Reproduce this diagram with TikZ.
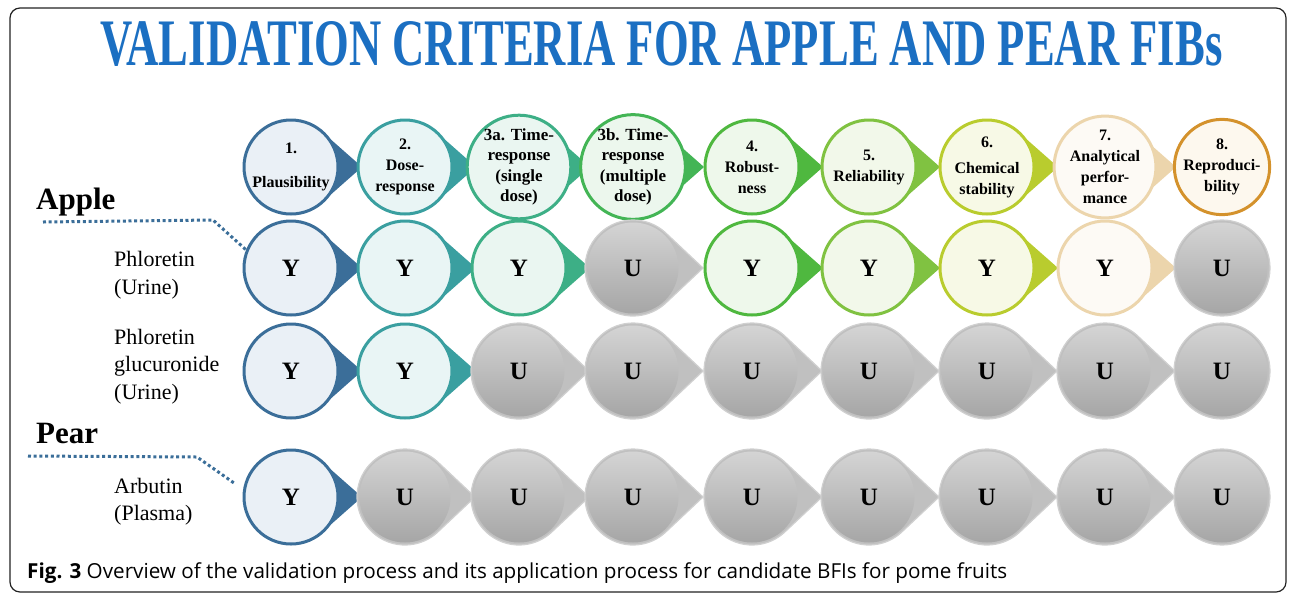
\documentclass[tikz,border=0pt]{standalone}
\usepackage{fontspec}
\setmainfont{Liberation Serif}
\newfontfamily\capfont{Open Sans}
\usetikzlibrary{calc}
\definecolor{c1}{HTML}{3B6E99}\definecolor{f1}{HTML}{EAF0F6}
\definecolor{c2}{HTML}{3A9FA0}\definecolor{f2}{HTML}{E9F5F5}
\definecolor{c3}{HTML}{3DAF86}\definecolor{f3}{HTML}{EAF6F1}
\definecolor{c4}{HTML}{43B555}\definecolor{f4}{HTML}{ECF7ED}
\definecolor{c5}{HTML}{4FB83F}\definecolor{f5}{HTML}{EEF8EB}
\definecolor{c6}{HTML}{80C241}\definecolor{f6}{HTML}{F2F8EA}
\definecolor{c7}{HTML}{B9CC2E}\definecolor{f7}{HTML}{F7F9E6}
\definecolor{c8}{HTML}{ECD5AC}\definecolor{f8}{HTML}{FDFAF5}
\definecolor{c9}{HTML}{D4922C}\definecolor{f9}{HTML}{FDF8EE}
\definecolor{titleblue}{HTML}{1B6FC2}
\definecolor{gtop}{HTML}{D4D4D4}
\definecolor{gbot}{HTML}{A6A6A6}
\definecolor{gtip}{HTML}{C0C0C0}
\definecolor{gedge}{HTML}{D0D0D0}
\definecolor{frame}{HTML}{222222}
% coloured cell with tip
\newcommand\tipcell[5]{%
  \path[fill=c#4] ($(#2,#3)+(48.5:47)$) arc[start angle=48.5,end angle=311.5,radius=47] -- (#2+71,#3) -- cycle;
  \node[#5, draw=c#4, fill=f#4] (#1) at (#2,#3)}
% grey cell with tip
\newcommand\ucell[3]{%
  \path[fill=gtip, draw=gedge, line width=1.2pt] ($(#2,#3)+(48.5:48)$) arc[start angle=48.5,end angle=311.5,radius=48] -- (#2+70,#3) -- cycle;
  \node[un] (#1) at (#2,#3) {U};}
% grey end cell
\newcommand\uend[3]{%
  \path[fill=gtip, draw=gedge, line width=1.2pt] (#2,#3) circle[radius=48];
  \node[un] (#1) at (#2,#3) {U};}
\begin{document}
\begin{tikzpicture}[x=1pt,y=-1pt,
  cellc/.style={circle, minimum size=94pt, inner sep=0pt, line width=3pt},
  hdr/.style={cellc, align=center, font=\fontsize{16}{21}\selectfont\bfseries},
  hdrb/.style={cellc, align=center, font=\fontsize{17}{20.5}\selectfont\bfseries},
  yn/.style={cellc, font=\fontsize{25}{25}\selectfont\bfseries},
  un/.style={circle, minimum size=91pt, inner sep=0pt, top color=gtop, bottom color=gbot, font=\fontsize{25}{25}\selectfont\bfseries},
  lab/.style={anchor=west, inner sep=0pt, align=left, font=\fontsize{22}{27.5}\selectfont},
  grp/.style={anchor=base west, inner sep=0pt, font=\fontsize{31}{31}\selectfont\bfseries},
  dotl/.style={c1, line width=3pt, dash pattern=on 3pt off 2.7pt},
]
\useasboundingbox (0,0) rectangle (1292,595);
\draw[frame, line width=1.2pt, rounded corners=10pt] (10,8) rectangle (1286,592);

% title
\node[anchor=base west, inner sep=0pt, text=titleblue] (title) at (100,65)
  {\resizebox{1122pt}{44pt}{\bfseries VALIDATION CRITERIA FOR APPLE AND PEAR FIBs}};

% header row
\tipcell{h1}{291}{167}{1}{hdr}{1.\\[13pt]Plausibility};
\tipcell{h2}{405}{167}{2}{hdr}{2.\\Dose-\\response};
\tipcell{h3}{519}{167}{3}{hdrb}{3a. Time-\\response\\(single\\dose)};
\tipcell{h4}{633}{167}{4}{hdrb}{3b. Time-\\response\\(multiple\\dose)};
\tipcell{h5}{752}{167}{5}{hdr}{4.\\Robust-\\ness};
\tipcell{h6}{869}{167}{6}{hdr}{5.\\Reliability};
\tipcell{h7}{987}{167}{7}{hdr}{6.\\[5pt]Chemical\\stability};
\tipcell{h8}{1105}{167}{8}{hdr}{7.\\Analytical\\perfor-\\mance};
\node[hdr, draw=c9, fill=f9] (h9) at (1222,167) {8.\\Reproduci-\\bility};

% row 1
\tipcell{a1}{291}{268}{1}{yn}{Y};
\tipcell{a2}{405}{268}{2}{yn}{Y};
\tipcell{a3}{519}{268}{3}{yn}{Y};
\ucell{a4}{633}{268}
\tipcell{a5}{752}{268}{5}{yn}{Y};
\tipcell{a6}{869}{268}{6}{yn}{Y};
\tipcell{a7}{987}{268}{7}{yn}{Y};
\tipcell{a8}{1105}{268}{8}{yn}{Y};
\uend{a9}{1222}{268}

% row 2
\tipcell{b1}{291}{371}{1}{yn}{Y};
\tipcell{b2}{405}{371}{2}{yn}{Y};
\ucell{b3}{519}{371}
\ucell{b4}{633}{371}
\ucell{b5}{752}{371}
\ucell{b6}{869}{371}
\ucell{b7}{987}{371}
\ucell{b8}{1105}{371}
\uend{b9}{1222}{371}

% row 3
\tipcell{c1n}{291}{497}{1}{yn}{Y};
\ucell{c2n}{405}{497}
\ucell{c3n}{519}{497}
\ucell{c4n}{633}{497}
\ucell{c5n}{752}{497}
\ucell{c6n}{869}{497}
\ucell{c7n}{987}{497}
\ucell{c8n}{1105}{497}
\uend{c9n}{1222}{497}

% group labels
\node[grp] (apple) at (36,209) {Apple};
\node[grp] (pear) at (36,443) {Pear};
\node[lab] (l1) at (114,275) {Phloretin\\(Urine)};
\node[lab] (l2) at (114,366.5) {Phloretin\\glucuronide\\(Urine)};
\node[lab] (l3) at (114,501.5) {Arbutin\\(Plasma)};

% dotted connectors
\coordinate (ad0) at (43,222);
\coordinate (ad1) at (213,220);
\draw[dotl] (ad0) -- (ad1) -- (a1.158);
\coordinate (pd0) at (28,456);
\coordinate (pd1) at (197,457);
\coordinate (pd2) at (234,483);
\draw[dotl] (pd0) -- (pd1) -- (pd2);

% caption
\node[anchor=base west, inner sep=0pt] (cap) at (27,578)
  {\resizebox{980pt}{!}{\capfont\fontsize{18}{18}\selectfont\textbf{Fig. 3} Overview of the validation process and its application process for candidate BFIs for pome fruits}};
\end{tikzpicture}
\end{document}
